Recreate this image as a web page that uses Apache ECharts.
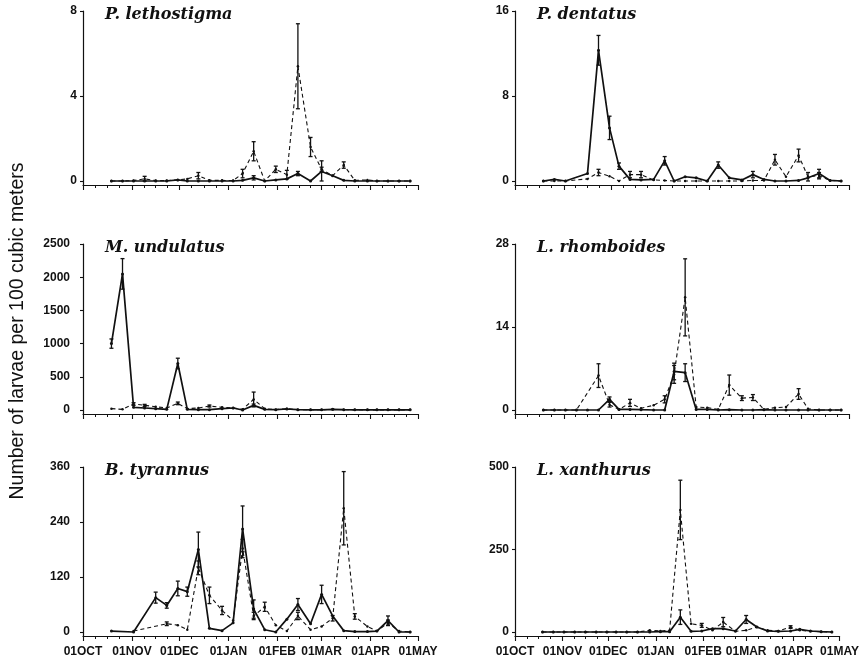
<!DOCTYPE html>
<html>
<head>
<meta charset="utf-8">
<script src="https://cdn.jsdelivr.net/npm/echarts@6/dist/echarts.min.js"></script>
<style>
  html, body { margin: 0; background: #fff; }
  #chart { width: 862px; height: 661px; }
</style>
</head>
<body>
<div id="chart"></div>
<script>
  // sampling dates, in days after 01OCT
  const days = [18, 25, 32, 39, 46, 53, 60, 66, 73, 80, 88, 95, 101, 108, 115, 122, 129, 136, 144, 151, 158, 165, 172, 180, 186, 193, 200, 207];
  const monthStarts = [0, 31, 61, 92, 123, 151, 182, 212];
  const monthLabels = ['01OCT', '01NOV', '01DEC', '01JAN', '01FEB', '01MAR', '01APR', '01MAY'];

  // P. lethostigma
  const lethSolid = [0, 0, 0, 0, 0, 0, 0.05, 0, 0, 0, 0, 0, 0.03, 0.15, 0, 0.05, 0.1, 0.35, 0, 0.45, 0.25, 0.03, 0, 0, 0, 0, 0, 0];
  const lethSolidErr = [0, 0, 0, 0, 0, 0, 0, 0, 0, 0, 0, 0, 0, 0.1, 0, 0, 0, 0.1, 0, 0.5, 0, 0, 0, 0, 0, 0, 0, 0];
  const lethDash = [0, 0, 0.02, 0.1, 0.02, 0.02, 0.05, 0.1, 0.25, 0.03, 0.03, 0.02, 0.35, 1.4, 0, 0.55, 0.3, 5.4, 1.6, 0.55, 0.25, 0.75, 0.03, 0.05, 0, 0, 0, 0];
  const lethDashErr = [0, 0, 0, 0.12, 0, 0, 0, 0, 0.15, 0, 0, 0, 0.2, 0.45, 0, 0.15, 0.2, 2.0, 0.45, 0.1, 0, 0.15, 0, 0, 0, 0, 0, 0];

  // P. dentatus
  const dentSolid = [0, 0.15, 0, null, 0.7, 12.3, 5.0, 1.4, 0.15, 0.1, 0.15, 1.9, 0, 0.4, 0.3, 0, 1.5, 0.3, 0.1, 0.6, 0.15, 0, 0, 0.05, 0.3, 0.7, 0.05, 0];
  const dentSolidErr = [0, 0, 0, 0, 0, 1.4, 1.1, 0.3, 0, 0, 0, 0.4, 0, 0, 0, 0, 0.3, 0, 0, 0.3, 0, 0, 0, 0, 0, 0.4, 0, 0];
  const dentDash = [0, 0, 0, null, 0.2, 0.8, 0.45, 0, 0.6, 0.6, 0.1, 0.05, 0, 0, 0, 0, 0, 0, 0, 0.05, 0.05, 2.0, 0.4, 2.4, 0.4, 0.5, 0.05, 0];
  const dentDashErr = [0, 0, 0, 0, 0, 0.3, 0, 0, 0.3, 0.3, 0, 0, 0, 0, 0, 0, 0, 0, 0, 0, 0, 0.5, 0, 0.6, 0.4, 0.3, 0, 0];

  // M. undulatus
  const undSolid = [1000, 2050, 40, 30, 20, 10, 700, 10, 5, 5, 20, 30, 0, 70, 10, 5, 15, 5, 3, 3, 10, 5, 3, 2, 2, 2, 2, 2];
  const undSolidErr = [70, 230, 0, 0, 0, 0, 80, 0, 0, 0, 0, 0, 0, 20, 0, 0, 0, 0, 0, 0, 0, 0, 0, 0, 0, 0, 0, 0];
  const undDash = [20, 10, 90, 70, 50, 30, 100, 20, 30, 60, 40, 30, 10, 160, 20, 5, 20, 5, 5, 5, 10, 5, 3, 2, 2, 2, 2, 2];
  const undDashErr = [0, 0, 20, 15, 0, 0, 20, 0, 0, 15, 0, 0, 0, 110, 0, 0, 0, 0, 0, 0, 0, 0, 0, 0, 0, 0, 0, 0];

  // L. rhomboides
  const rhomSolid = [0, 0, 0, 0, 0, 0, 1.8, 0.1, 0.1, 0.05, 0, 0, 6.5, 6.3, 0.1, 0.1, 0, 0.05, 0, 0, 0.05, 0, 0, 0, 0, 0, 0, 0];
  const rhomSolidErr = [0, 0, 0, 0, 0, 0, 0.4, 0, 0, 0, 0, 0, 1.4, 1.5, 0, 0, 0, 0, 0, 0, 0, 0, 0, 0, 0, 0, 0, 0];
  const rhomDash = [0, 0, 0, 0, null, 5.8, 0.9, 0.1, 1.2, 0.3, 0.8, 1.8, 6.0, 19, 0.5, 0.4, 0.1, 4.2, 2.0, 2.1, 0.1, 0.4, 0.5, 2.7, 0.2, 0, 0, 0];
  const rhomDashErr = [0, 0, 0, 0, 0, 2.0, 0.4, 0, 0.6, 0, 0, 0.6, 1.5, 6.5, 0, 0, 0, 1.7, 0.4, 0.5, 0, 0, 0, 0.9, 0, 0, 0, 0];

  // B. tyrannus
  const tyrSolid = [2, null, 0, null, 75, 58, 95, 88, 180, 8, 3, 20, 225, 50, 5, 0, 28, 60, 18, 82, 35, 3, 1, 1, 2, 25, 0, 0];
  const tyrSolidErr = [0, 0, 0, 0, 12, 6, 16, 10, 38, 0, 0, 0, 50, 20, 0, 0, 0, 13, 0, 20, 0, 0, 0, 0, 0, 10, 0, 0];
  const tyrDash = [null, null, 2, null, null, 18, 15, 5, 140, 80, 47, 25, 182, 35, 55, 15, 2, 35, 5, 12, 30, 270, 34, 12, 2, 20, 2, 0];
  const tyrDashErr = [0, 0, 0, 0, 0, 4, 0, 0, 15, 18, 9, 0, 20, 8, 10, 0, 0, 8, 0, 0, 6, 80, 6, 0, 0, 6, 0, 0];

  // L. xanthurus
  const xanSolid = [0, 0, 0, 0, 0, 0, 0, 0, 0, 0, 0, 1, 1, 45, 2, 3, 10, 10, 3, 38, 15, 3, 2, 3, 8, 3, 1, 0];
  const xanSolidErr = [0, 0, 0, 0, 0, 0, 0, 0, 0, 0, 0, 0, 0, 22, 0, 0, 0, 0, 0, 12, 0, 0, 0, 0, 0, 0, 0, 0];
  const xanDash = [0, 0, 0, 0, 0, 0, 0, 0, 0, 0, 5, 3, 5, 370, 25, 20, 5, 30, 2, 5, 15, 5, 3, 15, 5, 2, 1, 0];
  const xanDashErr = [0, 0, 0, 0, 0, 0, 0, 0, 0, 0, 0, 0, 0, 90, 0, 6, 0, 14, 0, 0, 0, 0, 0, 4, 0, 0, 0, 0];

  const panels = [
    { title: 'P. lethostigma', solid: lethSolid, solidErr: lethSolidErr, dash: lethDash, dashErr: lethDashErr, max: 8, yTicks: [0, 4, 8], col: 0, row: 0, labMargin: 6 },
    { title: 'P. dentatus', solid: dentSolid, solidErr: dentSolidErr, dash: dentDash, dashErr: dentDashErr, max: 16, yTicks: [0, 8, 16], col: 1, row: 0, labMargin: 6 },
    { title: 'M. undulatus', solid: undSolid, solidErr: undSolidErr, dash: undDash, dashErr: undDashErr, max: 2500, yTicks: [0, 500, 1000, 1500, 2000, 2500], col: 0, row: 1, labMargin: 13 },
    { title: 'L. rhomboides', solid: rhomSolid, solidErr: rhomSolidErr, dash: rhomDash, dashErr: rhomDashErr, max: 28, yTicks: [0, 14, 28], col: 1, row: 1, labMargin: 6 },
    { title: 'B. tyrannus', solid: tyrSolid, solidErr: tyrSolidErr, dash: tyrDash, dashErr: tyrDashErr, max: 360, yTicks: [0, 120, 240, 360], col: 0, row: 2, labMargin: 13 },
    { title: 'L. xanthurus', solid: xanSolid, solidErr: xanSolidErr, dash: xanDash, dashErr: xanDashErr, max: 500, yTicks: [0, 250, 500], col: 1, row: 2, labMargin: 6 }
  ];

  // layout
  const colLeft = [83, 515];
  const colWidth = [335, 334];
  const rowTop = [11, 244, 467];
  const rowHeight = [174, 170, 169];
  const zeroGap = 4; // x axis line sits a few px under the zero line

  // quarter-month minor ticks
  const minorTicks = [];
  for (let m = 0; m < monthStarts.length - 1; m++) {
    const a = monthStarts[m], b = monthStarts[m + 1];
    for (let k = 1; k < 4; k++) minorTicks.push(a + (b - a) * k / 4);
  }

  const narrow = "'Liberation Sans Narrow', 'Liberation Sans', Arial, sans-serif";
  const black = '#111';

  function toPairs(vals) {
    const out = [];
    vals.forEach((v, i) => { if (v !== null) out.push([days[i], v]); });
    return out;
  }
  function toErr(vals, errs) {
    const out = [];
    vals.forEach((v, i) => { if (v !== null && errs[i] > 0) out.push([days[i], v, errs[i]]); });
    return out;
  }

  function errRender(params, api) {
    const x = api.value(0), v = api.value(1), e = api.value(2);
    const lo = api.coord([x, Math.max(0, v - e)]);
    const hi = api.coord([x, v + e]);
    const w = 2;
    const st = { stroke: black, lineWidth: 1.3 };
    return {
      type: 'group',
      children: [
        { type: 'line', shape: { x1: hi[0], y1: hi[1], x2: lo[0], y2: lo[1] }, style: st },
        { type: 'line', shape: { x1: hi[0] - w, y1: hi[1], x2: hi[0] + w, y2: hi[1] }, style: st },
        { type: 'line', shape: { x1: lo[0] - w, y1: lo[1], x2: lo[0] + w, y2: lo[1] }, style: st }
      ]
    };
  }

  const grid = [], xAxis = [], yAxis = [], series = [], graphic = [];

  panels.forEach((p, i) => {
    const left = colLeft[p.col], width = colWidth[p.col];
    const top = rowTop[p.row], height = rowHeight[p.row];
    const min = -p.max * zeroGap / (height - zeroGap);
    const bottomRow = p.row === 2;

    grid.push({ left: left, top: top, width: width, height: height });

    xAxis.push({
      gridIndex: i, type: 'value', min: 0, max: 212, position: 'bottom',
      axisLine: { show: true, onZero: false, lineStyle: { color: black, width: 1.2 } },
      axisTick: { show: true, customValues: monthStarts, length: 5, lineStyle: { color: black, width: 1.1 } },
      axisLabel: {
        show: bottomRow, customValues: monthStarts, margin: 10,
        formatter: v => monthLabels[monthStarts.indexOf(v)],
        fontFamily: narrow, fontWeight: 'bold', fontSize: 12, color: black
      },
      splitLine: { show: false }
    });
    // second axis only for the small ticks
    xAxis.push({
      gridIndex: i, type: 'value', min: 0, max: 212, position: 'bottom',
      axisLine: { show: false, onZero: false },
      axisTick: { show: true, customValues: minorTicks, length: 3, lineStyle: { color: black, width: 1 } },
      axisLabel: { show: false },
      splitLine: { show: false }
    });

    yAxis.push({
      gridIndex: i, type: 'value', min: min, max: p.max,
      axisLine: { show: true, onZero: false, lineStyle: { color: black, width: 1.2 } },
      axisTick: { show: true, customValues: p.yTicks, length: 3, lineStyle: { color: black, width: 1.1 } },
      axisLabel: {
        customValues: p.yTicks, margin: p.labMargin,
        formatter: v => String(v),
        fontFamily: narrow, fontWeight: 'bold', fontSize: 12, color: black
      },
      splitLine: { show: false }
    });

    const xi = i * 2;
    series.push({
      type: 'line', xAxisIndex: xi, yAxisIndex: i, data: toPairs(p.dash), connectNulls: true,
      symbol: 'circle', symbolSize: 2.5, itemStyle: { color: black },
      lineStyle: { color: black, width: 1.1, type: [4, 3] }, z: 2
    });
    series.push({
      type: 'line', xAxisIndex: xi, yAxisIndex: i, data: toPairs(p.solid), connectNulls: true,
      symbol: 'circle', symbolSize: 3, itemStyle: { color: black },
      lineStyle: { color: black, width: 1.7 }, z: 3
    });
    series.push({
      type: 'custom', xAxisIndex: xi, yAxisIndex: i, data: toErr(p.dash, p.dashErr),
      renderItem: errRender, z: 4
    });
    series.push({
      type: 'custom', xAxisIndex: xi, yAxisIndex: i, data: toErr(p.solid, p.solidErr),
      renderItem: errRender, z: 4
    });

    graphic.push({
      type: 'text', left: left + 22, top: top - 4,
      style: {
        text: p.title, fontFamily: 'DejaVu Serif, serif', fontStyle: 'italic', fontWeight: 'bold',
        fontSize: 16, fill: black
      }
    });
  });

  graphic.push({
    type: 'text', x: 18, y: 331, rotation: Math.PI / 2,
    style: {
      text: 'Number of larvae per 100 cubic meters',
      fontFamily: 'Liberation Sans', fontSize: 19.5, fill: black,
      textAlign: 'center', textVerticalAlign: 'middle'
    }
  });

  const chart = echarts.init(document.getElementById('chart'), null, { renderer: 'canvas' });
  chart.setOption({
    backgroundColor: '#fff',
    animation: false,
    grid: grid,
    xAxis: xAxis,
    yAxis: yAxis,
    series: series,
    graphic: graphic
  });
</script>
</body>
</html>
